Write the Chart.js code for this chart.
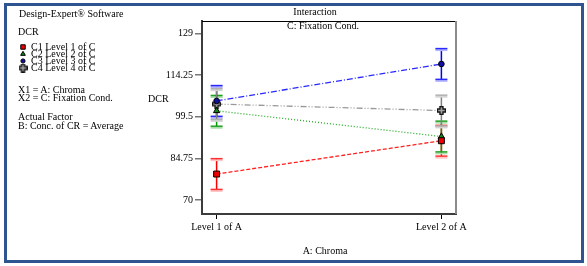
<!DOCTYPE html>
<html>
<head>
<meta charset="utf-8">
<script src="https://cdn.jsdelivr.net/npm/chart.js@4"></script>
<style>
  body{margin:0;background:#fff;}
  #wrap{position:relative;width:587px;height:266px;overflow:hidden;font-family:"Liberation Serif","Times New Roman",serif;font-size:10px;color:#000;}
  #c{position:absolute;left:0;top:0;}
  .frame{position:absolute;left:4px;top:3px;width:580px;height:260px;box-sizing:border-box;border:3px solid #2e5590;pointer-events:none;}
  .t{position:absolute;line-height:12px;white-space:nowrap;}
  .ctr{transform:translateX(-50%);}
</style>
</head>
<body>
<div id="wrap">
  <canvas id="c" width="587" height="266"></canvas>
  <div class="frame"></div>
  <div class="t" style="left:19px;top:8px">Design-Expert® Software</div>
  <div class="t" style="left:18px;top:26px">DCR</div>
  <div id="legend"></div>
  <div class="t" style="left:18px;top:84px">X1 = A: Chroma</div>
  <div class="t" style="left:18px;top:92px">X2 = C: Fixation Cond.</div>
  <div class="t" style="left:18px;top:111px">Actual Factor</div>
  <div class="t" style="left:18px;top:120px">B: Conc. of CR = Average</div>
  <div class="t ctr" style="left:315px;top:6px">Interaction</div>
  <div class="t ctr" style="left:323px;top:20px">C: Fixation Cond.</div>
  <div class="t" style="left:148px;top:93px">DCR</div>
  <div class="t ctr" style="left:325px;top:245px">A: Chroma</div>
</div>
<script>
const categories=['Level 1 of A','Level 2 of A'];
const seriesNames=['C1 Level 1 of C','C2 Level 2 of C','C3 Level 3 of C','C4 Level 4 of C'];
const c1=[79.2,91.0];
const c2=[101.6,92.5];
const c3=[105.1,118.2];
const c4=[104.0,101.7];
const lsdHalf=[5.45,5.45,5.45,5.45];
const yTicks=[70,84.75,99.5,114.25,129];

// plus marker for C4
function plusMarker(){
  const cv=document.createElement('canvas');cv.width=9;cv.height=9;
  const g=cv.getContext('2d');
  g.beginPath();
  g.moveTo(3,0.5);g.lineTo(6,0.5);g.lineTo(6,3);g.lineTo(8.5,3);g.lineTo(8.5,6);g.lineTo(6,6);
  g.lineTo(6,8.5);g.lineTo(3,8.5);g.lineTo(3,6);g.lineTo(0.5,6);g.lineTo(0.5,3);g.lineTo(3,3);g.closePath();
  g.fillStyle='#a8a8a8';g.fill();g.strokeStyle='#111';g.lineWidth=1.4;g.stroke();
  return cv;
}

const styles=[
  {line:'#ff2020',dash:[4,2],bar:'#ff0000',cap:'#ff3030',shadow:'#ffc4c4',pt:'rect',r:4.2,fill:'#ee0000'},
  {line:'#22aa22',dash:[1,2],bar:'#009900',cap:'#22a022',shadow:'#a8dca8',pt:'triangle',r:3.6,fill:'#118811'},
  {line:'#2a2aff',dash:[6,2,1,2],bar:'#0000ff',cap:'#2a2aff',shadow:'#b4b4ff',pt:'circle',r:2.8,fill:'#1010a0'},
  {line:'#999999',dash:[6,2,1,2,1,2],bar:'#808080',cap:'#b0b0b0',shadow:'#d4d4d4',pt:plusMarker(),r:4,fill:'#a8a8a8'}
];
const seriesVals=[c1,c2,c3,c4];

// legend rows in the left panel
const legendY=[47,54,61,68];
const lg=document.getElementById('legend');
seriesNames.forEach((n,i)=>{
  const d=document.createElement('div');d.className='t';
  d.style.left='31px';d.style.top=(legendY[i]-6)+'px';d.textContent=n;lg.appendChild(d);
});

const errorBars={
  id:'errorBars',
  beforeDatasetsDraw(chart){
    const {ctx,scales:{x,y}}=chart;
    ctx.save();
    seriesVals.forEach((vals,i)=>{
      const s=styles[i];
      vals.forEach((v,j)=>{
        const px=x.getPixelForValue(j+1);
        const top=y.getPixelForValue(v+lsdHalf[i]);
        const bot=y.getPixelForValue(v-lsdHalf[i]);
        ctx.strokeStyle=s.bar;ctx.lineWidth=1.5;
        ctx.beginPath();ctx.moveTo(px,top);ctx.lineTo(px,bot);ctx.stroke();
        [top,bot].forEach(cy=>{
          ctx.strokeStyle=s.shadow;ctx.lineWidth=2;
          ctx.beginPath();ctx.moveTo(px-6,cy+1.5);ctx.lineTo(px+6,cy+1.5);ctx.stroke();
          ctx.strokeStyle=s.cap;ctx.lineWidth=1.5;
          ctx.beginPath();ctx.moveTo(px-6,cy);ctx.lineTo(px+6,cy);ctx.stroke();
        });
      });
    });
    ctx.restore();
  },
  afterDraw(chart){
    const {ctx,chartArea:a}=chart;
    ctx.save();
    ctx.strokeStyle='#000';ctx.lineWidth=1;
    ctx.beginPath();ctx.moveTo(a.left,a.top+0.5);ctx.lineTo(a.right,a.top+0.5);ctx.stroke();
    ctx.strokeStyle='#8a8a8a';ctx.lineWidth=2;
    ctx.beginPath();ctx.moveTo(a.right,a.top);ctx.lineTo(a.right,a.bottom);ctx.stroke();
    // legend markers
    styles.forEach((s,i)=>{
      ctx.fillStyle=s.fill;ctx.strokeStyle='#000';ctx.lineWidth=1;
      Chart.helpers.drawPoint(ctx,{pointStyle:s.pt,radius:s.r*0.75,rotation:0,borderWidth:1},23,legendY[i]);
    });
    ctx.restore();
  }
};

new Chart(document.getElementById('c'),{
  type:'scatter',
  data:{datasets:seriesVals.map((vals,i)=>({
    label:seriesNames[i],
    data:vals.map((v,j)=>({x:j+1,y:v})),
    showLine:true,
    borderColor:styles[i].line,borderDash:styles[i].dash,borderWidth:1.3,
    pointStyle:styles[i].pt,pointRadius:styles[i].r,
    pointBackgroundColor:styles[i].fill,pointBorderColor:'#000',pointBorderWidth:1
  }))},
  options:{
    responsive:false,animation:false,devicePixelRatio:1,
    layout:{padding:{left:0,top:21,right:131,bottom:0}},
    plugins:{legend:{display:false},tooltip:{enabled:false},title:{display:false}},
    scales:{
      x:{type:'linear',min:0.935,max:2.065,
        afterFit:s=>{s.height=52;},
        afterBuildTicks:s=>{s.ticks=categories.map((c,i)=>({value:i+1}));},
        ticks:{autoSkip:false,padding:2,color:'#000',font:{family:'Liberation Serif',size:10},
          callback:v=>categories[v-1]},
        grid:{drawOnChartArea:false,drawTicks:true,tickLength:5,color:'#000',lineWidth:1},
        border:{display:true,color:'#3c3c3c',width:2}},
      y:{type:'linear',min:65.04,max:133.43,
        afterFit:s=>{s.width=202;},
        afterBuildTicks:s=>{s.ticks=yTicks.map(v=>({value:v}));},
        ticks:{autoSkip:false,padding:2,color:'#000',font:{family:'Liberation Serif',size:10},
          callback:v=>String(v)},
        grid:{drawOnChartArea:false,drawTicks:true,tickLength:7,color:'#777',lineWidth:1.5},
        border:{display:true,color:'#3c3c3c',width:2}}
    }
  },
  plugins:[errorBars]
});
</script>
</body>
</html>
